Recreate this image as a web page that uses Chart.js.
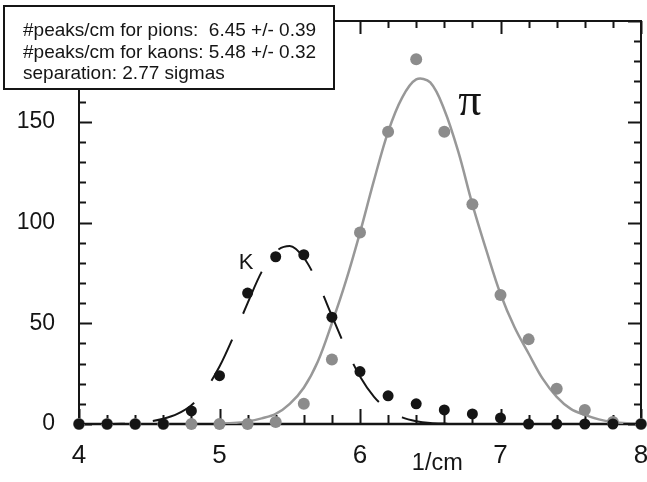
<!DOCTYPE html>
<html>
<head>
<meta charset="utf-8">
<script src="https://cdn.jsdelivr.net/npm/chart.js@4.4.1/dist/chart.umd.min.js"></script>
<style>
  html, body { margin: 0; padding: 0; background: #fff; }
</style>
</head>
<body>
<canvas id="peaksChart" width="647" height="482"></canvas>
<script>
// measured #peaks/cm distributions, one bin every 0.2 /cm
var binX        = [4.0, 4.2, 4.4, 4.6, 4.8, 5.0, 5.2, 5.4, 5.6, 5.8, 6.0, 6.2, 6.4, 6.6, 6.8, 7.0, 7.2, 7.4, 7.6, 7.8, 8.0];
var kaonCounts  = [0, 0, 0, 0, 6.5, 24, 65, 83, 84, 53, 26, 14, 10, 7, 5, 3, 0, 0, 0, 0, 0];
var pionCounts  = [0, 0, 0, 0, 0, 0, 0, 1, 10, 32, 95, 145, 181, 145, 109, 64, 42, 17.5, 7, 1, 0];

// fitted curves, sampled every 0.1 /cm
var kaonFitX = [4.0, 4.1, 4.2, 4.3, 4.4, 4.5, 4.6, 4.7, 4.8, 4.9, 5.0, 5.1, 5.2, 5.3, 5.4, 5.5, 5.6, 5.7, 5.8, 5.9,
                6.0, 6.1, 6.2, 6.3, 6.4, 6.5, 6.6, 6.7, 6.8, 6.9, 7.0, 7.1, 7.2, 7.3, 7.4, 7.5, 7.6, 7.7, 7.8, 7.9, 8.0];
var kaonFitY = [0, 0, 0, 0.1, 0.3, 1.2, 2.6, 5, 9.3, 17, 28.5, 43.5, 60, 75.5, 85.5, 88.3, 82.5, 70, 53.7, 37.5,
                23.6, 13.5, 7, 3.3, 1.4, 0.5, 0.2, 0.1, 0, 0, 0, 0, 0, 0, 0, 0, 0, 0, 0, 0, 0];
var pionFitX = [5.0, 5.1, 5.2, 5.3, 5.4, 5.5, 5.6, 5.7, 5.8, 5.9, 6.0, 6.1, 6.2, 6.3, 6.4, 6.5,
                6.6, 6.7, 6.8, 6.9, 7.0, 7.1, 7.2, 7.3, 7.4, 7.5, 7.6, 7.7, 7.8, 7.9, 8.0];
var pionFitY = [0.2, 0.5, 1.3, 2.8, 5, 10, 18, 31, 50, 71, 95, 121, 145, 162, 171, 169.5,
                156, 135, 109, 86, 64.5, 48, 35, 22.5, 13.5, 7.5, 4.5, 2.3, 1, 0.4, 0.2];

var xTicks = [4, 5, 6, 7, 8];
var yTicks = [0, 50, 100, 150, 200];
var statLines = [
  '#peaks/cm for pions:  6.45 +/- 0.39',
  '#peaks/cm for kaons: 5.48 +/- 0.32',
  'separation: 2.77 sigmas'
];
var xTitle = '1/cm';

function pairs(xs, ys) {
  return xs.map(function (x, i) { return { x: x, y: ys[i] }; });
}

var ink = '#151515';
var grey = 'rgb(140,140,140)';
var greyLine = 'rgb(152,152,152)';

// frame and inward tick marks on all four sides
var framePlugin = {
  id: 'frame',
  beforeDatasetsDraw: function (chart) {
    var ctx = chart.ctx, a = chart.chartArea;
    var xs = chart.scales.x, ys = chart.scales.y;
    ctx.save();
    ctx.strokeStyle = ink;
    ctx.lineCap = 'butt';

    ctx.lineWidth = 2;
    ctx.beginPath();
    for (var i = 0; i <= 20; i++) {
      var v = 4 + i * 0.2;
      var px = Math.round(xs.getPixelForValue(v)) + 0.5;
      var major = i % 5 === 0;
      ctx.moveTo(px, a.bottom);
      ctx.lineTo(px, a.bottom - (major ? 15 : 9));
      ctx.moveTo(px, a.top);
      ctx.lineTo(px, a.top + (major ? 13 : 7));
    }
    for (var j = 0; j <= 20; j++) {
      var w = j * 10;
      var py = Math.round(ys.getPixelForValue(w)) + 0.5;
      var big = j % 5 === 0;
      ctx.moveTo(a.left, py);
      ctx.lineTo(a.left + (big ? 13 : 7), py);
      ctx.moveTo(a.right, py);
      ctx.lineTo(a.right - (big ? 13 : 7), py);
    }
    ctx.stroke();

    ctx.beginPath();
    ctx.lineWidth = 2;
    ctx.moveTo(a.left, a.top);
    ctx.lineTo(a.right, a.top);
    ctx.lineTo(a.right, a.bottom);
    ctx.moveTo(a.left, a.top);
    ctx.lineTo(a.left, a.bottom);
    ctx.stroke();
    ctx.beginPath();
    ctx.lineWidth = 2.5;
    ctx.moveTo(a.left - 1, a.bottom);
    ctx.lineTo(a.right + 1, a.bottom);
    ctx.stroke();
    ctx.restore();
  },
  afterDraw: function (chart) {
    var ctx = chart.ctx, a = chart.chartArea;
    var xs = chart.scales.x, ys = chart.scales.y;
    ctx.save();
    ctx.fillStyle = ink;

    // curve labels
    ctx.font = '22px "Liberation Sans", Arial, sans-serif';
    ctx.textAlign = 'center';
    ctx.textBaseline = 'alphabetic';
    ctx.fillText('K', xs.getPixelForValue(5.19), ys.getPixelForValue(77));
    ctx.font = '46px "Liberation Serif", "Times New Roman", serif';
    ctx.textAlign = 'left';
    ctx.fillText('\u03c0', xs.getPixelForValue(6.70), ys.getPixelForValue(153.5));

    // axis title sits off-centre, under the 6-7 gap
    ctx.font = '23.5px "Liberation Sans", Arial, sans-serif';
    ctx.textAlign = 'center';
    ctx.fillText(xTitle, xs.getPixelForValue(6.55), a.bottom + 46);

    // fit results box
    ctx.fillStyle = '#fff';
    ctx.fillRect(4, 6, 330, 83);
    ctx.strokeStyle = ink;
    ctx.lineWidth = 2;
    ctx.strokeRect(4, 6, 330, 83);
    ctx.fillStyle = ink;
    ctx.font = '19px "Liberation Sans", Arial, sans-serif';
    ctx.textAlign = 'left';
    statLines.forEach(function (line, i) {
      ctx.fillText(line, 23, 36 + i * 21.6);
    });
    ctx.restore();
  }
};

var ctx = document.getElementById('peaksChart').getContext('2d');
new Chart(ctx, {
  type: 'scatter',
  data: {
    datasets: [
      {
        label: 'kaons',
        data: pairs(binX, kaonCounts),
        pointRadius: 5.5,
        pointBorderWidth: 0,
        pointBackgroundColor: ink,
        showLine: false,
        clip: false,
        order: 0
      },
      {
        label: 'kaon fit',
        data: pairs(kaonFitX, kaonFitY),
        showLine: true,
        pointRadius: 0,
        borderColor: ink,
        borderWidth: 2,
        borderDash: [46, 28],
        cubicInterpolationMode: 'monotone',
        order: 1
      },
      {
        label: 'pions',
        data: pairs(binX, pionCounts),
        pointRadius: 6,
        pointBorderWidth: 0,
        pointBackgroundColor: grey,
        showLine: false,
        clip: false,
        order: 2
      },
      {
        label: 'pion fit',
        data: pairs(pionFitX, pionFitY),
        showLine: true,
        pointRadius: 0,
        borderColor: greyLine,
        borderWidth: 2.5,
        tension: 0.35,
        order: 3
      }
    ]
  },
  plugins: [framePlugin],
  options: {
    responsive: false,
    animation: false,
    layout: { padding: { top: 21, right: 6, left: 0, bottom: 0 } },
    plugins: {
      legend: { display: false },
      tooltip: { enabled: false }
    },
    scales: {
      x: {
        type: 'linear',
        min: 4,
        max: 8,
        grid: { display: false, drawTicks: false },
        border: { display: false },
        afterBuildTicks: function (s) { s.ticks = xTicks.map(function (v) { return { value: v }; }); },
        afterFit: function (s) {
          s.height = 58;
          s.paddingLeft = 0;
          s.paddingRight = 0;
        },
        ticks: {
          color: ink,
          padding: 16,
          font: { family: '"Liberation Sans", Arial, sans-serif', size: 26 }
        }
      },
      y: {
        min: 0,
        max: 200,
        grid: { display: false, drawTicks: false },
        border: { display: false },
        afterBuildTicks: function (s) { s.ticks = yTicks.map(function (v) { return { value: v }; }); },
        afterFit: function (s) {
          s.width = 79;
          s.paddingTop = 0;
          s.paddingBottom = 0;
        },
        ticks: {
          color: ink,
          padding: 24,
          font: { family: '"Liberation Sans", Arial, sans-serif', size: 23 }
        }
      }
    }
  }
});
</script>
</body>
</html>
